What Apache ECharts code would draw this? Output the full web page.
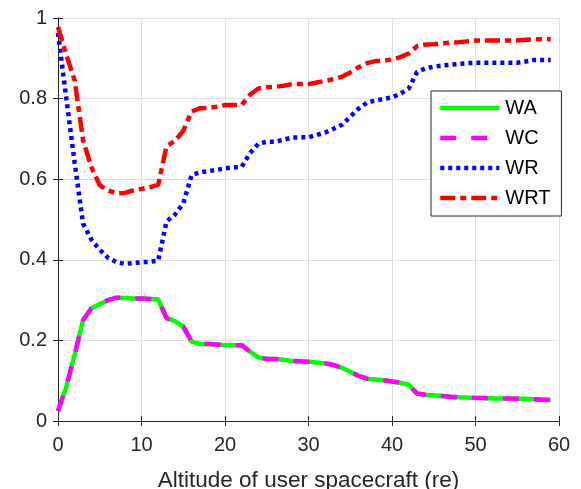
<!DOCTYPE html>
<html>
<head>
<meta charset="utf-8">
<script src="https://cdn.jsdelivr.net/npm/echarts@6/dist/echarts.min.js"></script>
<style>html,body{margin:0;padding:0;background:#fff;}#c{width:581px;height:489px;}</style>
</head>
<body>
<div id="c"></div>
<script>
var altitudes = [];
for (var i = 0; i <= 59; i++) altitudes.push(i);
var xTicks = [0, 10, 20, 30, 40, 50, 60];
var yTicks = [0, 0.2, 0.4, 0.6, 0.8, 1];

var WA = [0.025,0.085,0.165,0.25,0.28,0.29,0.30,0.306,0.305,0.304,
          0.304,0.303,0.302,0.255,0.248,0.234,0.197,0.191,0.191,0.190,
          0.188,0.188,0.188,0.172,0.158,0.154,0.154,0.152,0.149,0.148,
          0.147,0.145,0.143,0.139,0.132,0.122,0.112,0.105,0.103,0.101,
          0.098,0.095,0.090,0.068,0.065,0.064,0.062,0.060,0.059,0.058,
          0.057,0.057,0.056,0.056,0.056,0.055,0.055,0.054,0.053,0.052];
var WC = WA.slice();
var WR = [0.963,0.80,0.64,0.49,0.45,0.425,0.405,0.394,0.39,0.392,
          0.394,0.395,0.398,0.495,0.512,0.54,0.61,0.617,0.62,0.623,
          0.627,0.629,0.631,0.665,0.688,0.693,0.693,0.698,0.703,0.704,
          0.704,0.71,0.716,0.725,0.735,0.755,0.775,0.79,0.795,0.799,
          0.803,0.812,0.825,0.866,0.875,0.879,0.882,0.884,0.886,0.888,
          0.889,0.889,0.889,0.889,0.889,0.889,0.892,0.896,0.896,0.896];
var WRT = [0.978,0.908,0.845,0.697,0.63,0.585,0.572,0.565,0.566,0.572,
           0.576,0.58,0.586,0.682,0.695,0.72,0.768,0.776,0.777,0.78,
           0.784,0.784,0.784,0.81,0.825,0.828,0.829,0.832,0.836,0.836,
           0.836,0.84,0.844,0.848,0.854,0.865,0.878,0.888,0.893,0.894,
           0.897,0.903,0.912,0.93,0.934,0.935,0.937,0.939,0.94,0.942,
           0.944,0.944,0.944,0.944,0.944,0.944,0.946,0.947,0.947,0.947];

function pairs(ys) { return altitudes.map(function (x, i) { return [x, ys[i]]; }); }

var FONT = "'Liberation Sans', Arial, Helvetica, sans-serif";
var AX = '#262626';
var chart = echarts.init(document.getElementById('c'), null, {renderer: 'canvas'});

var xBase = {type: 'value', min: xTicks[0], max: xTicks[xTicks.length - 1], interval: xTicks[1] - xTicks[0]};
var yBase = {type: 'value', min: yTicks[0], max: yTicks[yTicks.length - 1], interval: 0.2};

chart.setOption({
  animation: false,
  backgroundColor: '#fff',
  grid: {left: 58, right: 22, top: 18, bottom: 68, containLabel: false, outerBoundsMode: 'none'},
  xAxis: [
    Object.assign({}, xBase, {
      position: 'bottom',
      name: 'Altitude of user spacecraft (re)',
      nameLocation: 'middle',
      nameGap: 48,
      nameTextStyle: {fontFamily: FONT, fontSize: 22.5, color: AX},
      axisLine: {show: true, lineStyle: {color: AX, width: 1}},
      axisTick: {show: true, inside: true, length: 5, lineStyle: {color: AX}},
      axisLabel: {fontFamily: FONT, fontSize: 20, color: AX, margin: 14},
      splitLine: {show: true, lineStyle: {color: '#dfdfdf', width: 1}}
    }),
    Object.assign({}, xBase, {
      position: 'top',
      axisLine: {show: true, lineStyle: {color: AX, width: 1}},
      axisTick: {show: true, inside: true, length: 5, lineStyle: {color: AX}},
      axisLabel: {show: false},
      splitLine: {show: false}
    })
  ],
  yAxis: [
    Object.assign({}, yBase, {
      position: 'left',
      axisLine: {show: true, lineStyle: {color: AX, width: 1}},
      axisTick: {show: true, inside: true, length: 5, lineStyle: {color: AX}},
      axisLabel: {fontFamily: FONT, fontSize: 20, color: AX, margin: 11},
      splitLine: {show: true, lineStyle: {color: '#dfdfdf', width: 1}}
    }),
    Object.assign({}, yBase, {
      position: 'right',
      axisLine: {show: true, lineStyle: {color: AX, width: 1}},
      axisTick: {show: true, inside: true, length: 5, lineStyle: {color: AX}},
      axisLabel: {show: false},
      splitLine: {show: false}
    })
  ],
  legend: {
    orient: 'vertical',
    left: 431,
    top: 91,
    padding: [7, 11, 8, 7],
    itemWidth: 59,
    itemHeight: 14,
    itemGap: 10,
    backgroundColor: '#fff',
    borderColor: AX,
    borderWidth: 1,
    borderRadius: 0,
    textStyle: {fontFamily: FONT, fontSize: 20, color: '#000', padding: [0, 0, 0, 1]},
    lineStyle: {width: 4.5},
    itemStyle: {opacity: 0},
    data: ['WA', 'WC', 'WR', 'WRT']
  },
  series: [
    {name: 'WA', type: 'line', data: pairs(WA), showSymbol: false, symbol: 'none',
     lineStyle: {color: '#00ff00', width: 4.5, type: 'solid'}, itemStyle: {color: '#00ff00'}, z: 2},
    {name: 'WC', type: 'line', data: pairs(WC), showSymbol: false, symbol: 'none',
     lineStyle: {color: '#ff00ff', width: 4.5, type: [16, 15]}, itemStyle: {color: '#ff00ff'}, z: 3},
    {name: 'WR', type: 'line', data: pairs(WR), showSymbol: false, symbol: 'none',
     lineStyle: {color: '#0000ff', width: 4.5, type: [4, 4]}, itemStyle: {color: '#0000ff'}, z: 4},
    {name: 'WRT', type: 'line', data: pairs(WRT), showSymbol: false, symbol: 'none',
     lineStyle: {color: '#ff0000', width: 4.5, type: [15, 5, 6, 5]}, itemStyle: {color: '#ff0000'}, z: 5}
  ]
});
</script>
</body>
</html>
